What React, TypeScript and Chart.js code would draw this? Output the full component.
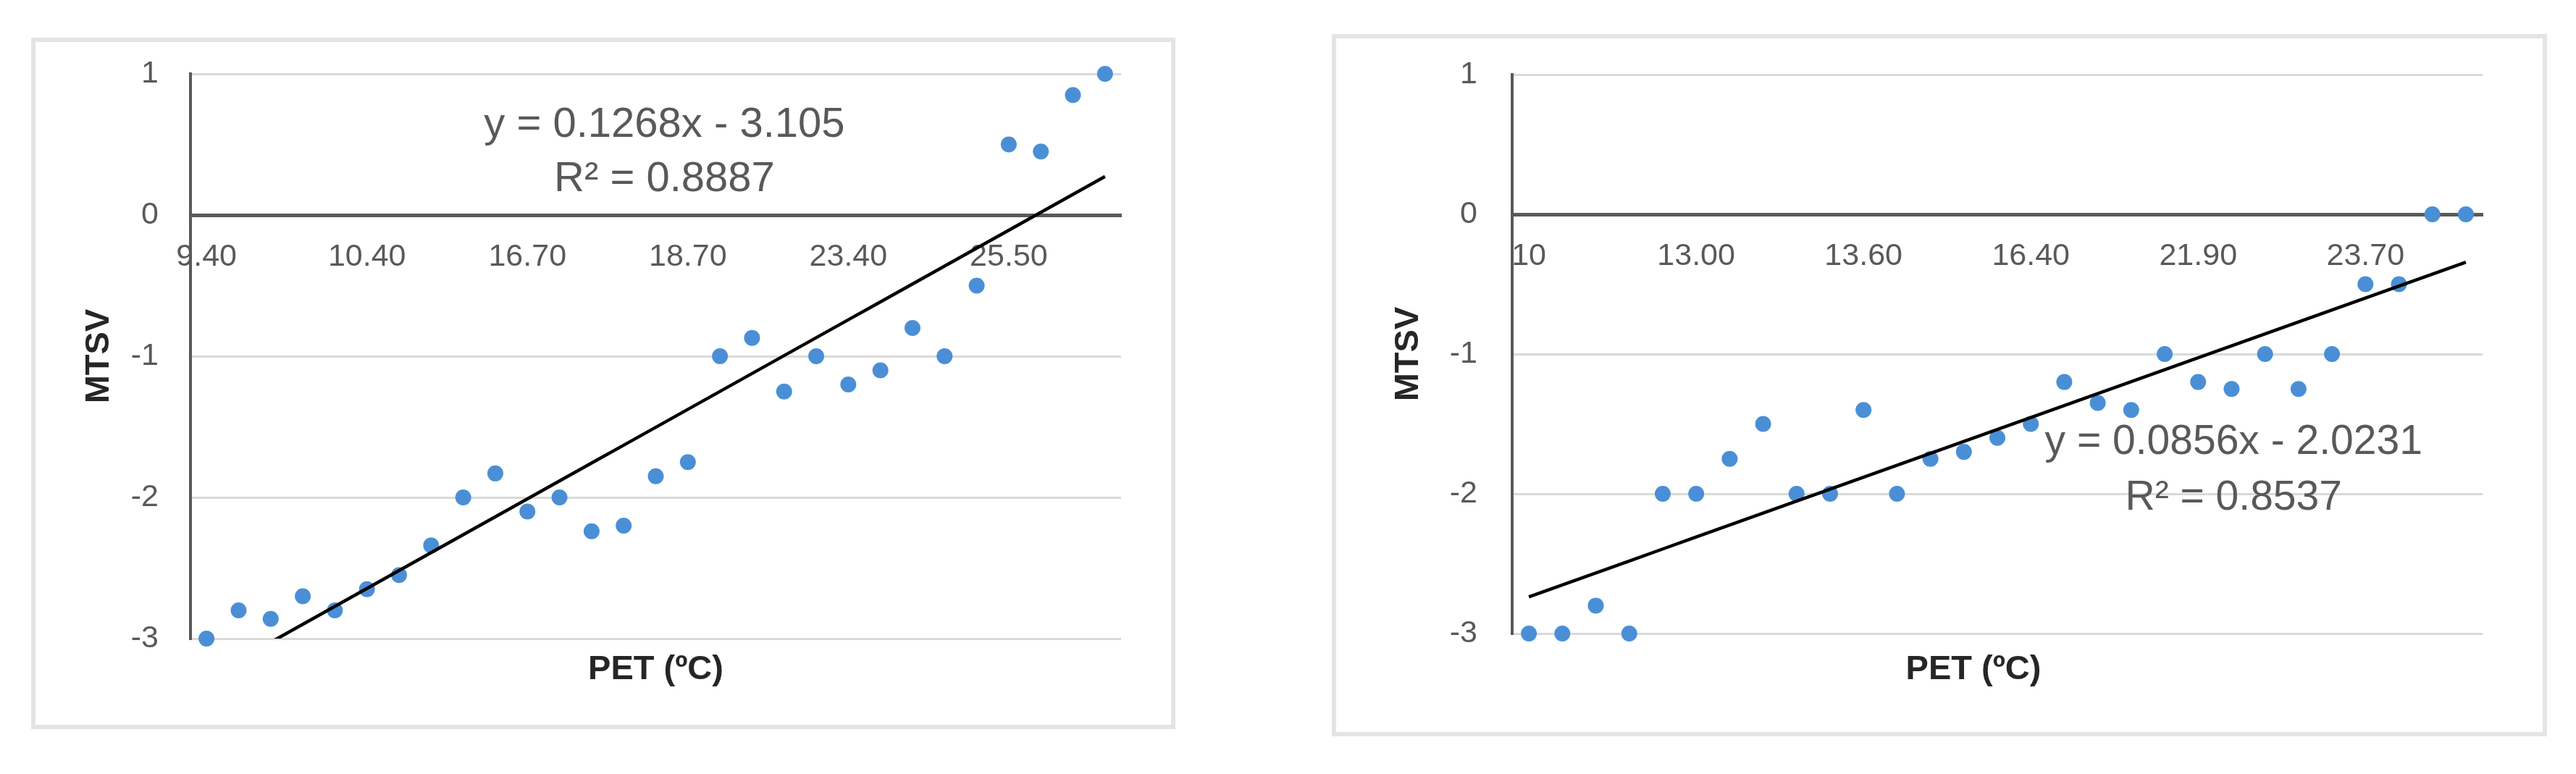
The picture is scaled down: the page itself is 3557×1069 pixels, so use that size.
import React, { useEffect, useRef } from 'react';
import { Chart, registerables } from 'chart.js';

Chart.register(...registerables);

// ---------- data ----------
const leftCategories = ['9.40', '', '', '', '', '10.40', '', '', '', '', '16.70', '', '', '', '', '18.70', '', '', '', '', '23.40', '', '', '', '', '25.50', '', '', ''];
const leftMTSV = [-3.0, -2.8, -2.86, -2.7, -2.8, -2.65, -2.55, -2.34, -2.0, -1.83, -2.1, -2.0, -2.24, -2.2, -1.85, -1.75, -1.0, -0.87, -1.25, -1.0, -1.2, -1.1, -0.8, -1.0, -0.5, 0.5, 0.45, 0.85, 1.0];
const leftEquation = ['y = 0.1268x - 3.105', 'R² = 0.8887'];

const rightCategories = ['10', '', '', '', '', '13.00', '', '', '', '', '13.60', '', '', '', '', '16.40', '', '', '', '', '21.90', '', '', '', '', '23.70', '', '', ''];
const rightMTSV = [-3, -3, -2.8, -3, -2, -2, -1.75, -1.5, -2, -2, -1.4, -2, -1.75, -1.7, -1.6, -1.5, -1.2, -1.35, -1.4, -1, -1.2, -1.25, -1, -1.25, -1, -0.5, -0.5, 0, 0];
const rightEquation = ['y = 0.0856x - 2.0231', 'R² = 0.8537'];

const yTicks = { min: -3, max: 1, step: 1 };
const xTitle = 'PET (ºC)';
const yTitle = 'MTSV';

// ---------- styling ----------
const FONT = "'Liberation Sans', Arial, sans-serif";
const BLUE = '#4a8fd6';
const AXIS = '#595959';
const TICK = '#595959';
const GRID = '#d9d9d9';
const TITLE = '#262626';

// least-squares linear trendline on category index (1..n), as Excel does
function trendline(values: number[]): number[] {
  const n = values.length;
  let sx = 0, sy = 0, sxx = 0, sxy = 0;
  values.forEach((v, i) => {
    const x = i + 1;
    sx += x; sy += v; sxx += x * x; sxy += x * v;
  });
  const b = (n * sxy - sx * sy) / (n * sxx - sx * sx);
  const a = (sy - b * sx) / n;
  return values.map((_, i) => a + b * (i + 1));
}

const equationPlugin = {
  id: 'equationLabel',
  afterLayout(chart: any, _args: any, opts: any) {
    const s = chart.scales.x2;
    if (s && opts && opts.titleShift) {
      s.left += opts.titleShift;
      s.right += opts.titleShift;
    }
  },
  afterDatasetsDraw(chart: any, _args: any, opts: any) {
    if (!opts || !opts.lines) return;
    const { ctx, scales } = chart;
    const x = scales.x.getPixelForValue(opts.atIndex);
    ctx.save();
    ctx.font = `${opts.size}px ${FONT}`;
    ctx.fillStyle = opts.color;
    ctx.textAlign = 'center';
    ctx.textBaseline = 'middle';
    const lines: string[] = opts.lines;
    const ys: number[] = opts.atY;
    for (let i = 0; i < lines.length; i++) {
      ctx.fillText(lines[i], x, scales.y.getPixelForValue(ys[i]));
    }
    ctx.restore();
  },
};

type PanelProps = {
  categories: string[];
  values: number[];
  equation: string[];
  eqIndex: number;
  eqY: number[];
  eqSize: number;
  width: number;
  height: number;
  areaLeft: number;
  areaTop: number;
  areaRight: number;
  areaBottom: number;
  titlePad: number;
  titleShift: number;
  yTitlePad: number;
  yTickPad: number;
};

function Panel(p: PanelProps) {
  const ref = useRef<HTMLCanvasElement>(null);
  useEffect(() => {
    if (!ref.current) return;
    const chart = new Chart(ref.current, {
      type: 'line',
      data: {
        labels: p.categories,
        datasets: [
          {
            label: 'MTSV',
            data: p.values,
            showLine: false,
            pointRadius: 11,
            pointHoverRadius: 11,
            pointBackgroundColor: BLUE,
            pointBorderWidth: 0,
            borderColor: BLUE,
            clip: false,
            xAxisID: 'x',
            yAxisID: 'y',
            order: 1,
          } as any,
          {
            label: 'Linear',
            data: trendline(p.values),
            borderColor: '#000000',
            borderWidth: 4.5,
            pointRadius: 0,
            fill: false,
            tension: 0,
            xAxisID: 'x',
            yAxisID: 'y',
            order: 0,
          } as any,
        ],
      },
      options: {
        responsive: false,
        animation: false,
        devicePixelRatio: 1,
        events: [],
        layout: { padding: { left: 0, top: p.areaTop, right: p.areaRight, bottom: 0 } },
        plugins: {
          legend: { display: false },
          tooltip: { enabled: false },
          equationLabel: {
            lines: p.equation,
            atIndex: p.eqIndex,
            atY: p.eqY,
            size: p.eqSize,
            color: '#595959',
            titleShift: p.titleShift,
          },
        } as any,
        scales: {
          x: {
            type: 'category',
            position: { y: 0 } as any,
            offset: true,
            grid: { display: false, drawTicks: false },
            border: { display: true, color: AXIS, width: 5 },
            ticks: {
              autoSkip: false,
              maxRotation: 0,
              minRotation: 0,
              padding: 32,
              color: TICK,
              font: { family: FONT, size: 43 },
            },
          },
          x2: {
            type: 'category',
            position: 'bottom',
            offset: true,
            grid: { display: false, drawTicks: false },
            border: { display: false },
            ticks: { display: false },
            title: {
              display: true,
              text: xTitle,
              color: TITLE,
              font: { family: FONT, size: 47, weight: 'bold' },
              padding: { top: 0, bottom: p.titlePad },
            },
            afterFit: (s: any) => { s.height = p.areaBottom; },
          },
          y: {
            type: 'linear',
            position: 'left',
            min: yTicks.min,
            max: yTicks.max,
            ticks: {
              stepSize: yTicks.step,
              padding: p.yTickPad,
              color: TICK,
              font: { family: FONT, size: 43 },
            },
            grid: {
              color: (c: any) => (c.tick && c.tick.value === 0 ? 'rgba(0,0,0,0)' : GRID),
              lineWidth: 3,
              drawTicks: false,
            },
            border: { display: true, color: AXIS, width: 4 },
            title: {
              display: true,
              text: yTitle,
              color: TITLE,
              font: { family: FONT, size: 47, weight: 'bold' },
              padding: { top: p.yTitlePad, bottom: 0 },
            },
            afterFit: (s: any) => {
              s.width = p.areaLeft;
              s.paddingTop = 0;
              s.paddingBottom = 0;
            },
          },
        } as any,
      },
      plugins: [equationPlugin as any],
    });
    return () => chart.destroy();
  }, []);
  return <canvas ref={ref} width={p.width} height={p.height} style={{ display: 'block', width: p.width, height: p.height }} />;
}

export default function App() {
  const box: React.CSSProperties = {
    position: 'absolute',
    boxSizing: 'border-box',
    border: '6px solid #e4e4e4',
    background: '#ffffff',
  };
  return (
    <div style={{ position: 'fixed', left: 0, top: 0, width: 3557, height: 1069, background: '#ffffff', overflow: 'hidden' }}>
      <div style={{ ...box, left: 43, top: 52, width: 1580, height: 955 }}>
        <Panel
          categories={leftCategories}
          values={leftMTSV}
          equation={leftEquation}
          eqIndex={14.27}
          eqY={[0.636, 0.251]}
          eqSize={58}
          width={1568}
          height={943}
          areaLeft={214}
          areaTop={44}
          areaRight={69}
          areaBottom={119}
          titlePad={48}
          titleShift={0}
          yTitlePad={60}
          yTickPad={44}
        />
      </div>
      <div style={{ ...box, left: 1839, top: 47, width: 1678, height: 970 }}>
        <Panel
          categories={rightCategories}
          values={rightMTSV}
          equation={rightEquation}
          eqIndex={21.06}
          eqY={[-1.633, -2.03]}
          eqSize={57}
          width={1666}
          height={958}
          areaLeft={243}
          areaTop={50}
          areaRight={83}
          areaBottom={136}
          titlePad={58}
          titleShift={-33}
          yTitlePad={72}
          yTickPad={48}
        />
      </div>
    </div>
  );
}
